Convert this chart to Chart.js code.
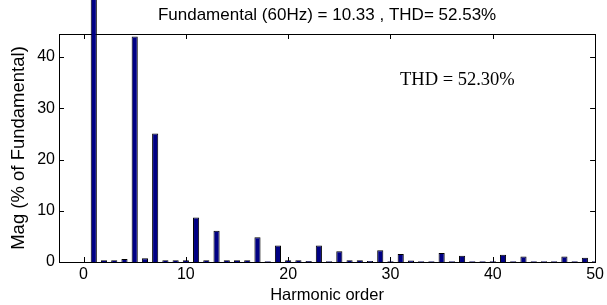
<!DOCTYPE html>
<html>
<head>
<meta charset="utf-8">
<script src="https://cdn.jsdelivr.net/npm/chart.js@4.4.1/dist/chart.umd.min.js"></script>
<style>
  html, body { margin: 0; padding: 0; background: #fff; }
  #wrap { width: 607px; height: 305px; }
</style>
</head>
<body>
<div id="wrap"><canvas id="fft" width="607" height="305"></canvas></div>
<script>
// harmonic order and magnitude (% of fundamental)
var orders = [0, 1, 2, 3, 4, 5, 6, 7, 8, 9, 10, 11, 12, 13, 14, 15, 16, 17, 18, 19, 20,
  21, 22, 23, 24, 25, 26, 27, 28, 29, 30, 31, 32, 33, 34, 35, 36, 37, 38, 39, 40,
  41, 42, 43, 44, 45, 46, 47, 48, 49, 50];
var mags = [0, 100, 0.35, 0.35, 0.6, 44, 0.75, 25.1, 0.35, 0.35, 0.35, 8.7, 0.35, 6.1, 0.35, 0.35, 0.35, 4.85, 0.15, 3.2, 0.35,
  0.35, 0.2, 3.2, 0.15, 2.1, 0.35, 0.35, 0.2, 2.3, 0.15, 1.55, 0.3, 0.15, 0.15, 1.75, 0.15, 1.2, 0.15, 0.15, 0.15,
  1.4, 0.15, 1.05, 0.15, 0.15, 0.15, 1.05, 0.15, 0.85, 0.15];
var xTicks = [0, 10, 20, 30, 40, 50];
var yTicks = [0, 10, 20, 30, 40];
var titleText = "Fundamental (60Hz) = 10.33 , THD= 52.53%";
var thdText = "THD = 52.30%";

var sans = "'Liberation Sans', Arial, sans-serif";

var boxPlugin = {
  id: "matlabBox",
  beforeDraw: function (chart) {
    var c = chart.ctx;
    c.save();
    c.fillStyle = "#fff";
    c.fillRect(0, 0, chart.width, chart.height);
    c.restore();
  },
  beforeDatasetsDraw: function (chart) {
    var c = chart.ctx, a = chart.chartArea;
    var xs = chart.scales.x, ys = chart.scales.y;
    c.save();
    c.strokeStyle = "#000";
    c.lineWidth = 1;
    c.strokeRect(Math.round(a.left) + 0.5, Math.round(a.top) + 0.5,
      Math.round(a.right - a.left), Math.round(a.bottom - a.top));
    c.beginPath();
    xTicks.forEach(function (v) {
      var px = Math.round(xs.getPixelForValue(v)) + 0.5;
      c.moveTo(px, a.bottom); c.lineTo(px, a.bottom - 5);
      c.moveTo(px, a.top); c.lineTo(px, a.top + 5);
    });
    yTicks.forEach(function (v) {
      var py = Math.round(ys.getPixelForValue(v)) + 0.5;
      c.moveTo(a.left, py); c.lineTo(a.left + 5, py);
      c.moveTo(a.right, py); c.lineTo(a.right - 5, py);
    });
    c.stroke();
    c.restore();
  },
  afterDraw: function (chart) {
    var c = chart.ctx, a = chart.chartArea;
    c.save();
    c.fillStyle = "#000";
    c.textAlign = "center";
    c.textBaseline = "alphabetic";
    c.font = "17px " + sans;
    c.fillText(titleText, (a.left + a.right) / 2, 20);
    c.textAlign = "left";
    c.font = "18.5px 'Liberation Serif', 'Times New Roman', serif";
    c.fillText(thdText, 400, 85);
    c.restore();
  }
};

new Chart(document.getElementById("fft"), {
  type: "bar",
  data: {
    datasets: [{
      data: orders.map(function (o, i) { return { x: o, y: mags[i] }; }),
      backgroundColor: "#000084",
      borderColor: "#000000",
      borderWidth: 1,
      barPercentage: 0.6,
      categoryPercentage: 1,
      clip: { left: 0, right: 0, top: false, bottom: 0 }
    }]
  },
  options: {
    responsive: false,
    animation: false,
    events: [],
    layout: { padding: { top: 34, left: 0, right: 7, bottom: 0 } },
    plugins: { legend: { display: false }, tooltip: { enabled: false }, title: { display: false } },
    scales: {
      x: {
        type: "linear",
        offset: false,
        min: -2.4,
        max: 50,
        afterBuildTicks: function (s) { s.ticks = xTicks.map(function (v) { return { value: v }; }); },
        afterFit: function (s) { s.height = 43; },
        grid: { display: false, drawTicks: false, offset: false },
        border: { display: false },
        ticks: { color: "#000", font: { family: sans, size: 16 }, padding: 3, maxRotation: 0 },
        title: { display: true, text: "Harmonic order", color: "#000", font: { family: sans, size: 16.5 }, padding: { top: 0, bottom: 0 } }
      },
      y: {
        min: 0,
        max: 44.5,
        afterBuildTicks: function (s) { s.ticks = yTicks.map(function (v) { return { value: v }; }); },
        afterFit: function (s) { s.width = 59; },
        grid: { display: false, drawTicks: false },
        border: { display: false },
        ticks: { color: "#000", font: { family: sans, size: 16 }, padding: 4 },
        title: { display: true, text: "Mag (% of Fundamental)", color: "#000", font: { family: sans, size: 18.5 }, padding: { top: 8, bottom: 0 } }
      }
    }
  },
  plugins: [boxPlugin]
});
</script>
</body>
</html>
